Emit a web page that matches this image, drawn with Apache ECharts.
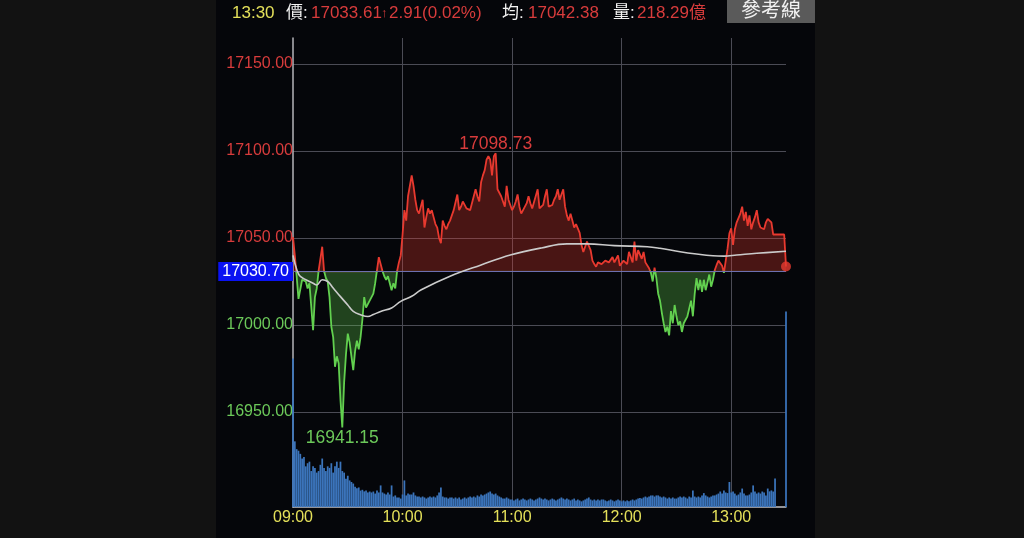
<!DOCTYPE html>
<html><head><meta charset="utf-8">
<script src="https://cdn.jsdelivr.net/npm/echarts@6/dist/echarts.min.js"></script>
<style>html,body{margin:0;padding:0;background:#121212;}#c{width:1024px;height:538px;}</style>
</head><body><div id="c"></div>
<script>
// ---------- DATA ----------
const REF = 17030.70;                       // reference (previous close)
const xTickLabels = ['09:00', '10:00', '11:00', '12:00', '13:00'];

// minutes after 09:00 and index value
const priceMinutes = [0,1,2,3,5,7,8,9,11,12,13,14,16,17,18,19,20,21,22,23,24,25,26,27,28,29,30,31,32,33,34,35,36,37,38,39,40,41,42,44,45,46,47,48,49,50,51,52,53,54,55,56,57,58,59,60,61,62,63,64,65,66,67,68,69,70,71,72,73,74,75,76,77,78,79,80,81,82,83,84,85,86,87,88,89,90,91,92,93,94,95,96,97,98,99,100,101,102,103,104,105,106,107,108,109,110,111,112,113,114,115,116,117,118,119,120,121,122,123,124,125,126,127,128,129,130,131,132,134,135,136,137,138,139,140,141,142,143,144,145,146,147,148,149,150,151,152,153,154,155,156,157,158,159,160,161,162,163,164,165,166,167,168,169,171,173,175,176,178,179,181,183,184,186,187,188,189,191,192,193,195,196,197,198,199,200,201,202,203,204,205,206,207,208,209,210,211,212,213,214,215,216,218,219,220,221,222,223,224,225,226,228,229,230,231,232,233,235,236,237,238,239,240,241,242,243,245,246,247,248,249,250,251,252,253,254,255,256,258,259,260,262,263,265,269,270];
const priceValues = [17050.5,17040,17028,17015,17026,17025,17021,17024,16997,17016,17021,17031,17045,17031,17027,17025,17016,16999,16993,16976,16982,16978,16957,16941.15,16967,16983,16995,16990,16982,16974,16985,16991,16986,16993,17003,17016,17010,17012,17013,17018,17024,17031.6,17039,17039,17031,17028,17026,17028,17024,17020,17024,17021,17031,17036,17040,17052,17066,17060,17074,17074,17086,17080,17072,17066,17064,17068,17072,17056,17062,17067,17064,17066,17062,17058,17056,17050,17047,17060,17057,17055,17058,17060,17063,17066,17067,17075,17066,17068,17071,17069,17067,17066,17066,17070,17074,17078,17074,17071,17082,17086,17089,17095,17097,17095,17086,17097,17098.73,17078,17076,17074,17071,17068,17080,17072,17069,17066,17068,17071,17075,17068,17064,17066,17067,17070,17074,17070,17067,17068,17078,17067,17068,17069,17074,17078,17068,17068,17069,17072,17074,17078,17072,17072,17078,17068,17063,17060,17064,17060,17056,17058,17059,17053,17046,17042,17045,17048,17049,17043,17037,17035,17033.5,17036,17035,17035,17037,17036,17039,17036,17040,17034,17037,17035,17042,17036,17048,17037,17043,17038,17042,17036,17032.6,17030,17025,17033,17027,17018,17014,17007,17001,16996,16999,16994,17008,17001,17011.5,17005,17000,17002,16996,17001,17003,17005,17014,17005,17018,17027,17020,17026,17019,17026,17020,17029,17022,17026,17031.6,17034.5,17037,17034,17030,17037,17044,17052.7,17055.6,17046,17055,17059,17064,17068,17060,17065,17057,17063,17055,17059,17062,17066,17059,17056,17055,17059,17061,17059,17052,17052,17052,17033.61];

// average price line
const avgMinutes = [0,2,4,11,13,16,19,22,26,30,33,37,41,44,48,54,59,65,70,86,103,119,136,150,161,176,194,201,212,221,230,236,243,254,270];
const avgValues  = [17040,17032,17028,17024,17023,17026,17025,17021.3,17016.3,17011.5,17007.8,17005.9,17004.9,17006,17007.8,17009.8,17013.6,17016.5,17020.1,17028,17034.5,17040.2,17044.3,17046.6,17046.6,17045.6,17045,17044.1,17042.1,17040.8,17039.8,17039.6,17040.2,17041.2,17042.38];

// volume per minute (億), 09:00 .. 13:30
const volumeValues = [
9.5,4.2,3.7,3.6,3.4,3.1,3.2,2.6,2.8,2.9,
2.3,2.6,2.5,2.2,2.3,2.7,3.1,2.5,2.3,2.6,
2.5,2.8,2.2,2.6,2.9,2.5,2.9,2.3,2.2,1.8,
2.0,1.7,1.6,1.5,1.3,1.2,1.25,1.05,1.1,1.0,
1.05,0.93,0.99,0.93,0.99,0.86,1.06,0.93,1.38,0.93,
0.86,0.8,0.93,0.8,1.38,0.67,0.74,0.61,0.61,0.54,
0.8,1.7,0.74,0.86,0.8,0.8,0.93,0.74,0.67,0.67,
0.61,0.67,0.61,0.54,0.61,0.67,0.61,0.67,0.61,0.74,
0.93,1.25,0.67,0.61,0.61,0.54,0.61,0.61,0.54,0.61,
0.54,0.61,0.48,0.54,0.61,0.54,0.61,0.67,0.61,0.67,
0.61,0.74,0.67,0.8,0.74,0.8,0.86,0.93,0.99,0.86,
0.8,0.86,0.74,0.67,0.61,0.54,0.54,0.61,0.54,0.48,
0.48,0.42,0.48,0.54,0.42,0.48,0.54,0.48,0.42,0.48,
0.54,0.48,0.42,0.48,0.54,0.61,0.54,0.48,0.54,0.48,
0.42,0.48,0.54,0.48,0.42,0.48,0.54,0.61,0.54,0.48,
0.54,0.48,0.42,0.48,0.54,0.42,0.48,0.42,0.36,0.42,
0.48,0.54,0.61,0.48,0.42,0.48,0.42,0.48,0.42,0.48,
0.48,0.42,0.36,0.42,0.48,0.42,0.36,0.42,0.48,0.42,
0.36,0.42,0.36,0.42,0.36,0.42,0.48,0.42,0.48,0.54,
0.57,0.54,0.61,0.67,0.61,0.67,0.74,0.74,0.67,0.74,
0.74,0.67,0.61,0.67,0.61,0.54,0.61,0.54,0.61,0.54,
0.54,0.61,0.67,0.61,0.67,0.61,0.54,0.67,0.61,1.06,
0.67,0.61,0.67,0.61,0.74,0.89,0.74,0.67,0.61,0.67,
0.74,0.74,0.8,0.86,0.99,0.86,1.06,0.93,0.89,1.6,
0.93,0.99,0.86,0.74,0.8,0.93,1.18,0.86,0.74,0.74,
0.8,0.93,1.38,0.99,0.86,0.93,0.86,0.99,0.93,0.74,
1.18,1.0,1.06,0.99,1.82,0,0,0,0,0,
12.5];

// header texts
const headTime = '13:30';
const headPrice = '17033.61';
const headChange = '2.91(0.02%)';
const headAvg = '17042.38';
const headVol = '218.29億';
const buttonText = '參考線';

// ---------- STYLE / LAYOUT ----------
const RED = '#e8392f', GREEN = '#62d04f';
const RED_TXT = '#d83c3c', GREEN_TXT = '#6cc95a', YELLOW = '#e4e05a';
const GRIDC = '#4b4b55';
const FONT = "'Liberation Sans', 'Noto Sans CJK TC', sans-serif";
const Y_MIN = 16900, Y_MAX = 17150;
const PLOT_TOP = 64, PLOT_BOTTOM_Y = 499;          // pixel rows of Y_MAX and Y_MIN
const refY = PLOT_TOP + (Y_MAX - REF) / (Y_MAX - Y_MIN) * (PLOT_BOTTOM_Y - PLOT_TOP);

const priceData = priceMinutes.map((m, i) => [m, priceValues[i]]);
const avgData = avgMinutes.map((m, i) => [m, avgValues[i]]);
let iMax = 0, iMin = 0;
priceValues.forEach((v, i) => { if (v > priceValues[iMax]) iMax = i; if (v < priceValues[iMin]) iMin = i; });
const last = priceData[priceData.length - 1];

const minuteCats = volumeValues.map((v, i) => {
  const t = 9 * 60 + i; const h = Math.floor(t / 60), mm = t % 60;
  return (h < 10 ? '0' : '') + h + ':' + (mm < 10 ? '0' : '') + mm;
});

function headTitle(text, left, color, size) {
  return { text: text, left: left, top: 4, padding: 0,
    textStyle: { color: color, fontSize: size || 17, fontWeight: 'normal', fontFamily: FONT, lineHeight: 18 } };
}
function hiddenX(g) { return { type: 'value', gridIndex: g, min: 0, max: 270, show: false }; }

const option = {
  backgroundColor: '#121212',
  animation: false,
  textStyle: { fontFamily: FONT },
  graphic: [{ type: 'rect', z: -10, silent: true, shape: { x: 216, y: 0, width: 599, height: 538 }, style: { fill: '#05060a' } }],
  title: [
    headTitle(headTime, 232, YELLOW),
    headTitle('價:', 286, '#f2f2f2'),
    headTitle(headPrice, 311, RED_TXT),
    headTitle('↑', 381, RED_TXT, 13),
    headTitle(headChange, 389, RED_TXT),
    headTitle('均:', 502, '#f2f2f2'),
    headTitle(headAvg, 528, RED_TXT),
    headTitle('量:', 613, '#f2f2f2'),
    headTitle(headVol, 637, RED_TXT),
    { text: buttonText, left: 727, top: 0, padding: [1, 14, 2, 14], backgroundColor: '#5a5a5a',
      textStyle: { color: '#f0f0f0', fontSize: 20, fontWeight: 'normal', lineHeight: 20, fontFamily: FONT } }
  ],
  grid: [
    { left: 293, right: 238, top: PLOT_TOP, bottom: 538 - PLOT_BOTTOM_Y },          // 0: price scale
    { left: 293, right: 238, top: 38, bottom: 31 },                                  // 1: volume + frame
    { left: 293, right: 238, top: PLOT_TOP, bottom: 538 - refY },                    // 2: above reference
    { left: 293, right: 238, top: refY, bottom: 538 - PLOT_BOTTOM_Y }                // 3: below reference
  ],
  xAxis: [
    hiddenX(0),
    { type: 'category', gridIndex: 1, data: minuteCats, boundaryGap: false,
      axisLine: { show: true, lineStyle: { color: '#c4c4c8', width: 1.5 } },
      axisTick: { show: false },
      axisLabel: { interval: (i) => i % 60 === 0, margin: 3, color: YELLOW, fontSize: 16,
        formatter: (v, i) => xTickLabels[Math.round(i / 60)] },
      splitLine: { show: true, interval: (i) => i % 60 === 0 && i > 0, lineStyle: { color: GRIDC, width: 1 } } },
    hiddenX(2),
    hiddenX(3)
  ],
  yAxis: [
    { type: 'value', gridIndex: 0, min: Y_MIN, max: Y_MAX, interval: 50,
      axisLine: { show: false }, axisTick: { show: false },
      axisLabel: { showMinLabel: false, margin: 0, fontSize: 16,
        formatter: (v) => (v > REF ? '{r|' : '{g|') + v.toFixed(2) + '}',
        rich: { r: { color: RED_TXT, fontSize: 16 }, g: { color: GREEN_TXT, fontSize: 16 } } },
      splitLine: { show: true, lineStyle: { color: ['rgba(0,0,0,0)', GRIDC, GRIDC, GRIDC, GRIDC, GRIDC], width: 1 } } },
    { type: 'value', gridIndex: 1, min: 0, max: 30,
      axisLine: { show: true, lineStyle: { color: '#b4b4ba', width: 1.5 } },
      axisTick: { show: false }, axisLabel: { show: false }, splitLine: { show: false } },
    { type: 'value', gridIndex: 2, min: REF, max: Y_MAX, show: false },
    { type: 'value', gridIndex: 3, min: Y_MIN, max: REF, show: false }
  ],
  series: [
    { type: 'bar', name: 'volume', xAxisIndex: 1, yAxisIndex: 1, data: volumeValues,
      barCategoryGap: '4%', itemStyle: { color: '#3b74bb' }, z: 1 },
    { type: 'line', name: 'price-up', xAxisIndex: 2, yAxisIndex: 2, data: priceData, clip: true,
      symbol: 'none', lineStyle: { width: 1.8, color: RED }, z: 4,
      areaStyle: { origin: REF, color: RED, opacity: 0.3 },
      markPoint: { silent: true, symbol: 'circle', symbolSize: 1, itemStyle: { color: 'rgba(0,0,0,0)' },
        data: [{ coord: priceData[iMax], value: priceValues[iMax],
          label: { show: true, position: 'top', distance: 0, color: RED_TXT, fontSize: 17.5, formatter: (p) => p.value.toFixed(2) } }] } },
    { type: 'line', name: 'price-down', xAxisIndex: 3, yAxisIndex: 3, data: priceData, clip: true,
      symbol: 'none', lineStyle: { width: 1.8, color: GREEN }, z: 4,
      areaStyle: { origin: REF, color: GREEN, opacity: 0.3 },
      markPoint: { silent: true, symbol: 'circle', symbolSize: 1, itemStyle: { color: 'rgba(0,0,0,0)' },
        data: [{ coord: priceData[iMin], value: priceValues[iMin],
          label: { show: true, position: 'bottom', distance: 2, color: GREEN_TXT, fontSize: 17.5, formatter: (p) => p.value.toFixed(2) } }] } },
    { type: 'line', name: 'avg', xAxisIndex: 0, yAxisIndex: 0, data: avgData, smooth: 0.4,
      symbol: 'none', lineStyle: { color: '#cbcbcb', width: 1.6 }, z: 5,
      markLine: { silent: true, symbol: ['none', 'none'],
        lineStyle: { color: '#6d70b0', width: 1, type: 'solid' },
        label: { show: true, position: 'start', distance: 0, formatter: REF.toFixed(2), color: '#ffffff',
          backgroundColor: '#0a12f2', padding: [2, 4, 1, 4], fontSize: 16 },
        data: [{ yAxis: REF }] } },
    { type: 'scatter', name: 'last', xAxisIndex: 0, yAxisIndex: 0, data: [last], symbolSize: 10,
      itemStyle: { color: RED }, z: 6 }
  ]
};
const chart = echarts.init(document.getElementById('c'));
chart.setOption(option);
</script></body></html>
